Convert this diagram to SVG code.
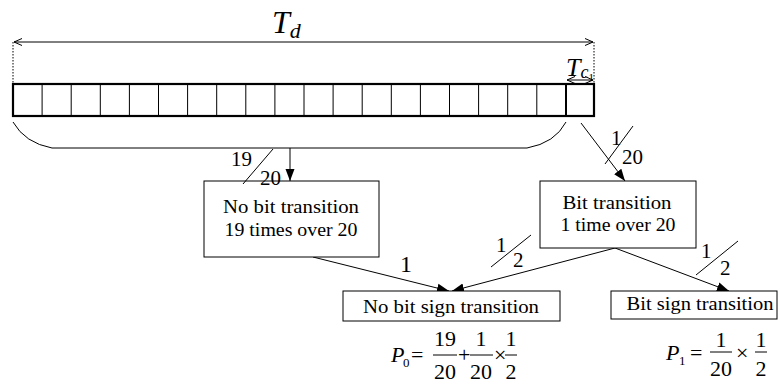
<svg xmlns="http://www.w3.org/2000/svg" width="780" height="385" viewBox="0 0 780 385" font-family="Liberation Serif, Times New Roman, serif">
<style>
text{fill:#000}
.bx{font-size:19px;text-anchor:middle}
.it{font-style:italic}
.box{fill:#fff;stroke:#000;stroke-width:1}
.ln{stroke:#000;stroke-width:1;fill:none}
.cell{stroke:#000;stroke-width:1}
.fr{font-size:21px}
.mth{font-size:22px}
</style>
<defs>
<marker id="open" viewBox="-10 -5 11 10" refX="0" refY="0" markerWidth="11" markerHeight="10" markerUnits="userSpaceOnUse" orient="auto-start-reverse">
<path d="M-8,-3.5 L0,0 L-8,3.5" fill="none" stroke="#000" stroke-width="1"/>
</marker>
<marker id="fill" viewBox="0 -5 12 10" refX="12" refY="0" markerWidth="12" markerHeight="10" markerUnits="userSpaceOnUse" orient="auto">
<path d="M0,-4.5 L12,0 L0,4.5 Z" fill="#000"/>
</marker>
</defs>

<g id="cells">
<rect x="13" y="84" width="581" height="32" fill="#fff" stroke="#000" stroke-width="2.2"/>
<g class="cell">
<line x1="42.1" y1="84" x2="42.1" y2="116"/>
<line x1="71.2" y1="84" x2="71.2" y2="116"/>
<line x1="100.3" y1="84" x2="100.3" y2="116"/>
<line x1="129.4" y1="84" x2="129.4" y2="116"/>
<line x1="158.5" y1="84" x2="158.5" y2="116"/>
<line x1="187.6" y1="84" x2="187.6" y2="116"/>
<line x1="216.7" y1="84" x2="216.7" y2="116"/>
<line x1="245.8" y1="84" x2="245.8" y2="116"/>
<line x1="274.9" y1="84" x2="274.9" y2="116"/>
<line x1="304" y1="84" x2="304" y2="116"/>
<line x1="333.1" y1="84" x2="333.1" y2="116"/>
<line x1="362.2" y1="84" x2="362.2" y2="116"/>
<line x1="391.3" y1="84" x2="391.3" y2="116"/>
<line x1="420.4" y1="84" x2="420.4" y2="116"/>
<line x1="449.5" y1="84" x2="449.5" y2="116"/>
<line x1="478.6" y1="84" x2="478.6" y2="116"/>
<line x1="507.7" y1="84" x2="507.7" y2="116"/>
<line x1="536.8" y1="84" x2="536.8" y2="116"/>
<line x1="566" y1="84" x2="566" y2="116" stroke-width="2"/>
</g>
</g>

<g id="labels-time">
<text class="it" x="272" y="33" font-size="32">T<tspan font-size="22" dy="5">d</tspan></text>
<text class="it" x="566" y="76" font-size="26">T<tspan font-size="18" dy="2">c</tspan><tspan font-size="11" font-style="normal" dy="3">1</tspan></text>
</g>

<g id="connectors">
<line class="ln" x1="14" y1="42" x2="593" y2="42" marker-start="url(#open)" marker-end="url(#open)"/>
<line class="ln" x1="13" y1="42" x2="13" y2="84" stroke-dasharray="1.5,1.5"/>
<line class="ln" x1="594" y1="42" x2="594" y2="84" stroke-dasharray="1.5,1.5"/>
<line class="ln" x1="567" y1="80" x2="593" y2="80" marker-start="url(#open)" marker-end="url(#open)"/>
<path class="ln" d="M13,122 Q25,143 52,148 L527,148 Q555,143 566,122" stroke="#333"/>
<line class="ln" x1="290" y1="148" x2="290" y2="181" marker-end="url(#fill)"/>
<line class="ln" x1="581" y1="123" x2="625" y2="181" marker-end="url(#fill)"/>
<line class="ln" x1="313" y1="257" x2="449" y2="291" marker-end="url(#fill)"/>
<line class="ln" x1="615" y1="248" x2="452" y2="291" marker-end="url(#fill)"/>
<line class="ln" x1="615" y1="248" x2="729" y2="291" marker-end="url(#fill)"/>
</g>

<g id="node-nobit">
<rect class="box" x="204" y="181" width="175" height="76"/>
<text class="bx" x="291" y="213" textLength="136" lengthAdjust="spacingAndGlyphs">No bit transition</text>
<text class="bx" x="291" y="236" textLength="133" lengthAdjust="spacingAndGlyphs">19 times over 20</text>
</g>
<g id="node-bit">
<rect class="box" x="540" y="181" width="156" height="67"/>
<text class="bx" x="617" y="209" textLength="109" lengthAdjust="spacingAndGlyphs">Bit transition</text>
<text class="bx" x="618" y="231" textLength="115" lengthAdjust="spacingAndGlyphs">1 time over 20</text>
</g>
<g id="node-nosign">
<rect class="box" x="343" y="291" width="217" height="30"/>
<text class="bx" x="451" y="313" textLength="176" lengthAdjust="spacingAndGlyphs">No bit sign transition</text>
</g>
<g id="node-sign">
<rect class="box" x="611" y="291" width="166" height="28"/>
<text class="bx" x="700" y="310" textLength="147" lengthAdjust="spacingAndGlyphs">Bit sign transition</text>
</g>

<g id="fractions">
<line class="ln" x1="243" y1="184" x2="273" y2="149"/>
<text class="fr" x="231" y="166">19</text>
<text class="fr" x="260" y="185">20</text>
<line class="ln" x1="605" y1="164" x2="633" y2="126"/>
<text class="fr" x="611" y="145">1</text>
<text class="fr" x="622" y="164">20</text>
<text x="400" y="272" font-size="24">1</text>
<line class="ln" x1="491" y1="267" x2="531" y2="235"/>
<text class="fr" x="496" y="252">1</text>
<text class="fr" x="513" y="267">2</text>
<line class="ln" x1="696" y1="275" x2="738" y2="241"/>
<text class="fr" x="701" y="258">1</text>
<text class="fr" x="720" y="275">2</text>
</g>

<g id="formula-p0">
<text class="it mth" x="391" y="362">P</text>
<text x="403" y="367" font-size="13">0</text>
<text class="mth" x="411" y="362">=</text>
<text class="mth" x="445" y="346" text-anchor="middle">19</text>
<line class="ln" x1="433" y1="355" x2="457" y2="355"/>
<text class="mth" x="445" y="379" text-anchor="middle">20</text>
<text class="mth" x="458" y="362">+</text>
<text class="mth" x="481" y="346" text-anchor="middle">1</text>
<line class="ln" x1="470" y1="355" x2="493" y2="355"/>
<text class="mth" x="481" y="379" text-anchor="middle">20</text>
<text class="mth" x="494" y="362">×</text>
<text class="mth" x="511" y="346" text-anchor="middle">1</text>
<line class="ln" x1="505" y1="355" x2="517" y2="355"/>
<text class="mth" x="511" y="379" text-anchor="middle">2</text>
</g>
<g id="formula-p1">
<text class="it mth" x="666" y="360">P</text>
<text x="679" y="365" font-size="13">1</text>
<text class="mth" x="690" y="360">=</text>
<text class="mth" x="721" y="347" text-anchor="middle">1</text>
<line class="ln" x1="710" y1="352" x2="732" y2="352"/>
<text class="mth" x="721" y="376" text-anchor="middle">20</text>
<text class="mth" x="736" y="360">×</text>
<text class="mth" x="761" y="347" text-anchor="middle">1</text>
<line class="ln" x1="755" y1="352" x2="767" y2="352"/>
<text class="mth" x="761" y="376" text-anchor="middle">2</text>
</g>
</svg>
